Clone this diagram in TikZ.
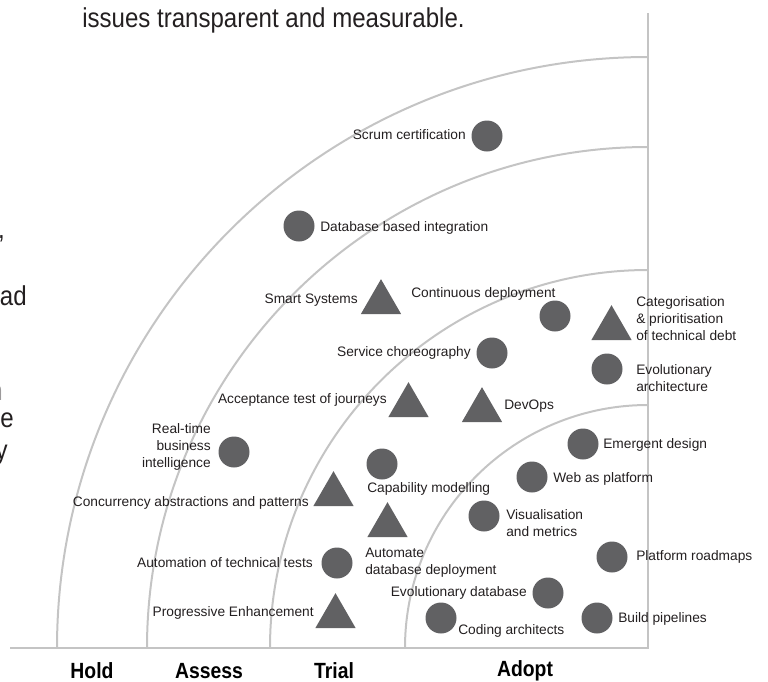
\documentclass[tikz,border=0pt]{standalone}
\usepackage{fontspec}
\setmainfont{Liberation Sans}
\newfontfamily\condfont[FakeStretch=0.88]{Liberation Sans}
\usetikzlibrary{shapes.geometric}
\definecolor{shapegray}{HTML}{616163}
\definecolor{axisgray}{HTML}{C4C4C4}
\definecolor{ink}{HTML}{231F20}
\begin{document}
\begin{tikzpicture}[x=0.75pt,y=-0.75pt,
  dot/.style={circle,fill=shapegray,inner sep=0pt,minimum size=23.25pt},
  tri/.style={regular polygon,regular polygon sides=3,fill=shapegray,inner sep=0pt,minimum size=35pt},
  lbl/.style={text=ink,font=\fontsize{10.3}{12.75}\selectfont,inner sep=0pt},
  phase/.style={text=black,font=\condfont\fontsize{16.5}{20}\selectfont\bfseries,inner sep=0pt},
  page/.style={text=ink,font=\condfont\fontsize{20.5}{24}\selectfont,inner sep=0pt},
  ring/.style={draw=axisgray,line width=1.5pt},
  axisline/.style={draw=axisgray,line width=1.9pt}]
\useasboundingbox (0,0) rectangle (768,682);

% rings
\begin{scope}
  \clip (0,0) rectangle (648,648);
  \coordinate (ctr) at (648,648);
  \draw[ring] (ctr) circle[radius=591];
  \draw[ring] (ctr) circle[radius=501];
  \draw[ring] (ctr) circle[radius=378];
  \draw[ring] (ctr) circle[radius=243];
\end{scope}
\coordinate (vtop) at (648,13);
\coordinate (corner) at (648,648);
\coordinate (hleft) at (10,648);
\draw[axisline] (vtop) -- (corner) -- (hleft);

% page text fragments
\node[page,anchor=base west] (toptext) at (82,27) {issues transparent and measurable.};
\node[page,anchor=base east] (frag1) at (5,238) {,};
\node[page,anchor=base east] (frag2) at (27,305) {ad};
\node[page,anchor=base east,text=ink!45] (frag3) at (3,400) {n};
\node[page,anchor=base east] (frag4) at (14,427) {e};
\node[page,anchor=base east] (frag5) at (8,459) {y};

% phase labels
\node[phase] (hold) at (92,671) {Hold};
\node[phase] (assess) at (209,671) {Assess};
\node[phase] (trial) at (334,671) {Trial};
\node[phase] (adopt) at (525,671) {Adopt};

% blips: circles
\node[dot] (scrum) at (487,136) {};
\node[dot] (dbint) at (299,226) {};
\node[dot] (contdep) at (555,316) {};
\node[dot] (servchor) at (492,353) {};
\node[dot] (evoarch) at (607,369) {};
\node[dot] (realtime) at (234,452) {};
\node[dot] (emergent) at (583,444) {};
\node[dot] (capab) at (382,464) {};
\node[dot] (webplat) at (532,477) {};
\node[dot] (visual) at (484,516) {};
\node[dot] (autotest) at (337,563) {};
\node[dot] (roadmaps) at (612,557) {};
\node[dot] (evodb) at (548,593) {};
\node[dot] (coding) at (441,618) {};
\node[dot] (buildpipe) at (597,618) {};

% blips: triangles
\node[tri] (smart) at (381,302.5) {};
\node[tri] (categ) at (611.5,328.5) {};
\node[tri] (accept) at (408.5,405.5) {};
\node[tri] (devops) at (482,410.5) {};
\node[tri] (concur) at (333.5,494.5) {};
\node[tri] (autodb) at (387.5,525.5) {};
\node[tri] (progress) at (335.5,616.5) {};

% labels
\node[lbl,anchor=mid east] (l-scrum) at (466,136) {Scrum certification};
\node[lbl,anchor=mid west] (l-dbint) at (320,228) {Database based integration};
\node[lbl,anchor=mid east] (l-smart) at (358,300) {Smart Systems};
\node[lbl,anchor=mid west] (l-contdep) at (411,294) {Continuous deployment};
\node[lbl,anchor=west,align=left] (l-categ) at (636,319) {Categorisation\\\& prioritisation\\of technical debt};
\node[lbl,anchor=mid east] (l-servchor) at (471,353) {Service choreography};
\node[lbl,anchor=west,align=left] (l-evoarch) at (636,378) {Evolutionary\\architecture};
\node[lbl,anchor=mid east] (l-accept) at (387,400) {Acceptance test of journeys};
\node[lbl,anchor=mid west] (l-devops) at (504,406) {DevOps};
\node[lbl,anchor=east,align=right] (l-realtime) at (211,447) {Real-time\\business\\intelligence};
\node[lbl,anchor=mid west] (l-emergent) at (603,445) {Emergent design};
\node[lbl,anchor=mid west] (l-capab) at (367,489) {Capability modelling};
\node[lbl,anchor=mid west] (l-webplat) at (553,479) {Web as platform};
\node[lbl,anchor=mid east] (l-concur) at (309,503) {Concurrency abstractions and patterns};
\node[lbl,anchor=west,align=left] (l-visual) at (506,523.5) {Visualisation\\and metrics};
\node[lbl,anchor=west,align=left] (l-autodb) at (365,563) {Automate\\database deployment};
\node[lbl,anchor=mid east] (l-autotest) at (313,564) {Automation of technical tests};
\node[lbl,anchor=mid west] (l-roadmaps) at (636,557) {Platform roadmaps};
\node[lbl,anchor=mid east] (l-evodb) at (527,593) {Evolutionary database};
\node[lbl,anchor=mid east] (l-progress) at (314,613) {Progressive Enhancement};
\node[lbl,anchor=mid west] (l-coding) at (458,631) {Coding architects};
\node[lbl,anchor=mid west] (l-buildpipe) at (618,619) {Build pipelines};
\end{tikzpicture}
\end{document}
